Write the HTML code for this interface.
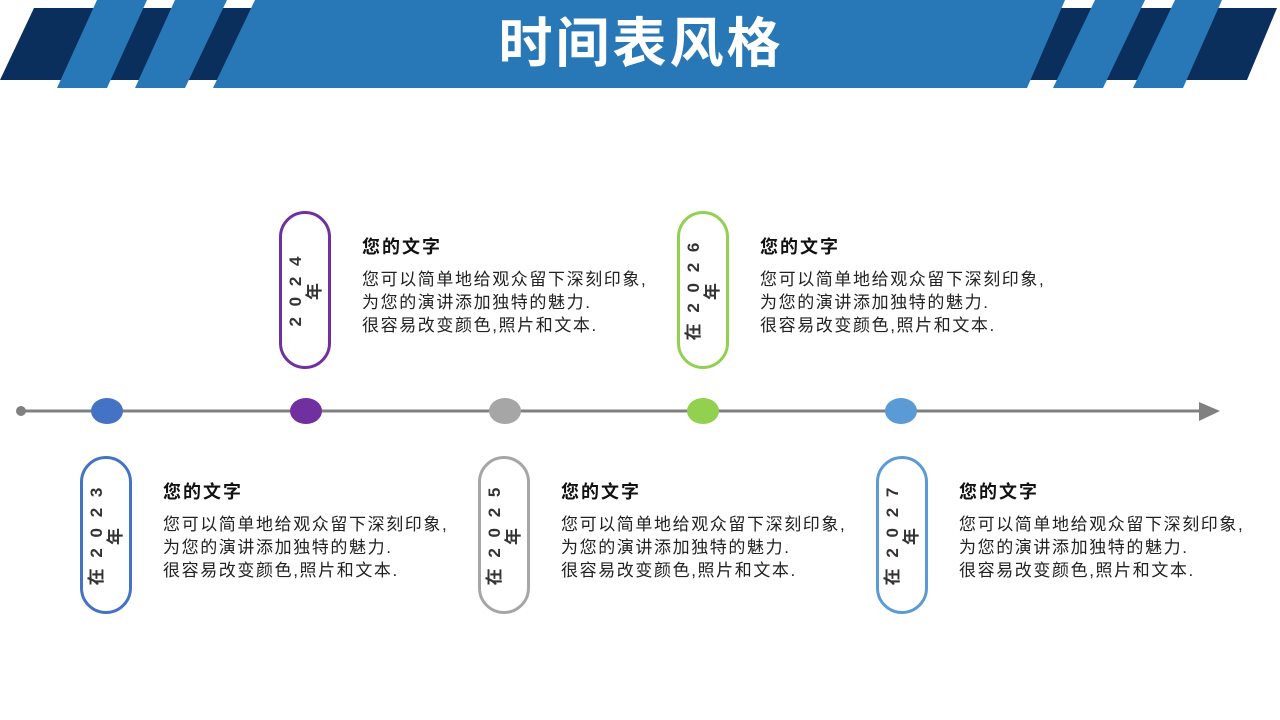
<!DOCTYPE html>
<html><head><meta charset="utf-8"><style>
body{margin:0;width:1280px;height:720px;background:#fff;position:relative;overflow:hidden;font-family:"Liberation Sans","Noto Sans CJK SC",sans-serif}
.pill{position:absolute;width:46px;height:152px;border:3px solid;border-radius:28px;box-sizing:content-box}
.yr{position:absolute;left:50%;top:50%;width:150px;transform:translate(-50%,-50%) rotate(-90deg);text-align:center;font-weight:bold;font-size:17px;color:#333;line-height:19px;letter-spacing:3px}
.t{position:absolute;color:#222;font-size:17px;line-height:23px;letter-spacing:1.6px}
.t b{display:block;font-size:18px;margin-bottom:9px;color:#111;letter-spacing:2px}
.dot{position:absolute;width:32px;height:26px;border-radius:50%;top:398px}
</style></head><body>
<svg width="1280" height="100" style="position:absolute;left:0;top:0">
<polygon points="34,8 1277,8 1247,80 0,80" fill="#0b2f5c"/>
<polygon points="97,0 147,0 107,88 57,88" fill="#2878b8"/>
<polygon points="175,0 227,0 185,88 135,88" fill="#2878b8"/>
<polygon points="255,0 1065,0 1027,88 213,88" fill="#2878b8"/>
<polygon points="1095,0 1145,0 1103,88 1053,88" fill="#2878b8"/>
<polygon points="1175,0 1222,0 1183,88 1133,88" fill="#2878b8"/>
<text x="641" y="62" text-anchor="middle" fill="#fff" font-size="54" letter-spacing="3" font-weight="bold" font-family="Liberation Sans,Noto Sans CJK SC,sans-serif">时间表风格</text>
</svg>
<svg width="1280" height="720" style="position:absolute;left:0;top:0">
<line x1="21" y1="411" x2="1202" y2="411" stroke="#808080" stroke-width="3"/>
<circle cx="21" cy="411" r="5" fill="#808080"/>
<polygon points="1199,402 1220,411 1199,421" fill="#808080"/>
</svg>
<div class="dot" style="left:91px;background:#4472c4"></div>
<div class="dot" style="left:290px;background:#7030a0"></div>
<div class="dot" style="left:489px;background:#a6a6a6"></div>
<div class="dot" style="left:687px;background:#92d050"></div>
<div class="dot" style="left:885px;background:#5b9bd5"></div>

<div class="pill" style="left:279px;top:211px;border-color:#7030a0"><div class="yr">2 0 2 4<br>年</div></div>
<div class="pill" style="left:677px;top:211px;border-color:#92d050"><div class="yr">在 2 0 2 6<br>年</div></div>
<div class="pill" style="left:80px;top:456px;border-color:#4472c4"><div class="yr">在 2 0 2 3<br>年</div></div>
<div class="pill" style="left:478px;top:456px;border-color:#a6a6a6"><div class="yr">在 2 0 2 5<br>年</div></div>
<div class="pill" style="left:876px;top:456px;border-color:#5b9bd5"><div class="yr">在 2 0 2 7<br>年</div></div>

<div class="t" style="left:362px;top:236px"><b>您的文字</b>您可以简单地给观众留下深刻印象,<br>为您的演讲添加独特的魅力.<br>很容易改变颜色,照片和文本.</div>
<div class="t" style="left:760px;top:236px"><b>您的文字</b>您可以简单地给观众留下深刻印象,<br>为您的演讲添加独特的魅力.<br>很容易改变颜色,照片和文本.</div>
<div class="t" style="left:163px;top:481px"><b>您的文字</b>您可以简单地给观众留下深刻印象,<br>为您的演讲添加独特的魅力.<br>很容易改变颜色,照片和文本.</div>
<div class="t" style="left:561px;top:481px"><b>您的文字</b>您可以简单地给观众留下深刻印象,<br>为您的演讲添加独特的魅力.<br>很容易改变颜色,照片和文本.</div>
<div class="t" style="left:959px;top:481px"><b>您的文字</b>您可以简单地给观众留下深刻印象,<br>为您的演讲添加独特的魅力.<br>很容易改变颜色,照片和文本.</div>
</body></html>
